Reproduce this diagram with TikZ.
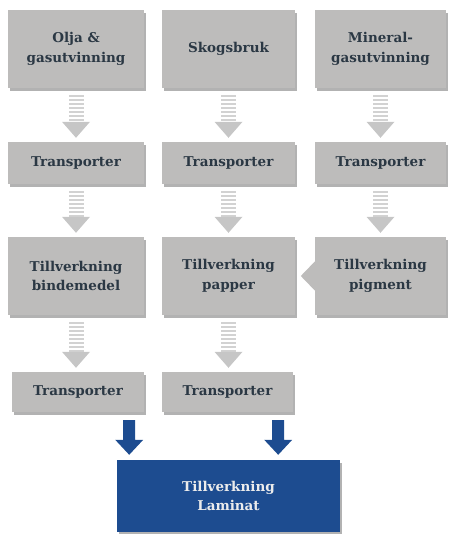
\documentclass[tikz,border=0pt]{standalone}
\usepackage{fontspec}
\setmainfont{DejaVu Serif}
\usetikzlibrary{calc,shadows}
\definecolor{boxgray}{HTML}{BDBCBB}
\definecolor{txt}{HTML}{2B3844}
\definecolor{stripe}{HTML}{D2D2D2}
\definecolor{arrgray}{HTML}{C6C6C6}
\definecolor{navy}{HTML}{1D4C90}
\definecolor{lighttxt}{HTML}{ECECEC}
\newcommand{\grayarr}[2]{%
  \draw[stripe, line width=15pt, dash pattern=on 2.2pt off 1.8pt]
    ($(#1.south)+(0,7)$) -- ($(#1.south |- #2.north)+(0,-20)$);
  \fill[arrgray] ($(#1.south |- #2.north)+(-14,-20)$) -- ($(#1.south |- #2.north)+(14,-20)$)
    -- ($(#1.south |- #2.north)+(0,-4)$) -- cycle;}
\newcommand{\bluearr}[2]{%
  \coordinate (#1top) at ($(#1.south east)+(-15,8)$);
  \coordinate (#1bot) at (#1top |- #2.north);
  \fill[navy] ($(#1top)+(-6,0)$) -- ($(#1top)+(6,0)$) -- ($(#1bot)+(6,-20)$)
    -- ($(#1bot)+(14,-20)$) -- ($(#1bot)+(0,-5)$) -- ($(#1bot)+(-14,-20)$)
    -- ($(#1bot)+(-6,-20)$) -- cycle;}
\begin{document}
\begin{tikzpicture}[x=1pt,y=-1pt,
  box/.style={rectangle, fill=boxgray, text=txt, align=center, inner sep=0pt,
    font=\bfseries\fontsize{13.5}{19.5}\selectfont,
    drop shadow={shadow xshift=2pt, shadow yshift=-3pt, opacity=0.3, fill=black}},
  bluebox/.style={box, fill=navy, text=lighttxt}]
\useasboundingbox (0,0) rectangle (449,534);
% row 1
\node[box, minimum width=136pt, minimum height=78pt] (oil) at (76,49) {Olja \&\\gasutvinning};
\node[box, minimum width=133pt, minimum height=78pt] (skog) at (228.5,49) {Skogsbruk};
\node[box, minimum width=131pt, minimum height=78pt] (min) at (380.5,49) {Mineral-\\gasutvinning};
% row 2
\node[box, minimum width=136pt, minimum height=42pt] (tr1) at (76,163) {Transporter};
\node[box, minimum width=133pt, minimum height=42pt] (tr2) at (228.5,163) {Transporter};
\node[box, minimum width=131pt, minimum height=42pt] (tr3) at (380.5,163) {Transporter};
% row 3
\node[box, minimum width=136pt, minimum height=78pt] (bind) at (76,276) {Tillverkning\\bindemedel};
\node[box, minimum width=133pt, minimum height=78pt] (pap) at (228.5,276) {Tillverkning\\papper};
\node[box, minimum width=131pt, minimum height=78pt] (pig) at (380.5,276) {Tillverkning\\pigment};
% row 4
\node[box, minimum width=132pt, minimum height=40pt] (tA) at (78,392) {Transporter};
\node[box, minimum width=131pt, minimum height=40pt] (tB) at (227.5,392) {Transporter};
% final
\node[bluebox, minimum width=223pt, minimum height=72pt] (lam) at (228.5,496) {Tillverkning\\Laminat};
% gray arrows
\grayarr{oil}{tr1}
\grayarr{skog}{tr2}
\grayarr{min}{tr3}
\grayarr{tr1}{bind}
\grayarr{tr2}{pap}
\grayarr{tr3}{pig}
\grayarr{bind}{tA}
\grayarr{pap}{tB}
% notch from pigment to papper
\fill[boxgray] ($(pig.west)+(0.5,-15)$) -- ($(pig.west)+(-14,0)$) -- ($(pig.west)+(0.5,15)$) -- cycle;
% blue arrows
\bluearr{tA}{lam}
\bluearr{tB}{lam}
\end{tikzpicture}
\end{document}
